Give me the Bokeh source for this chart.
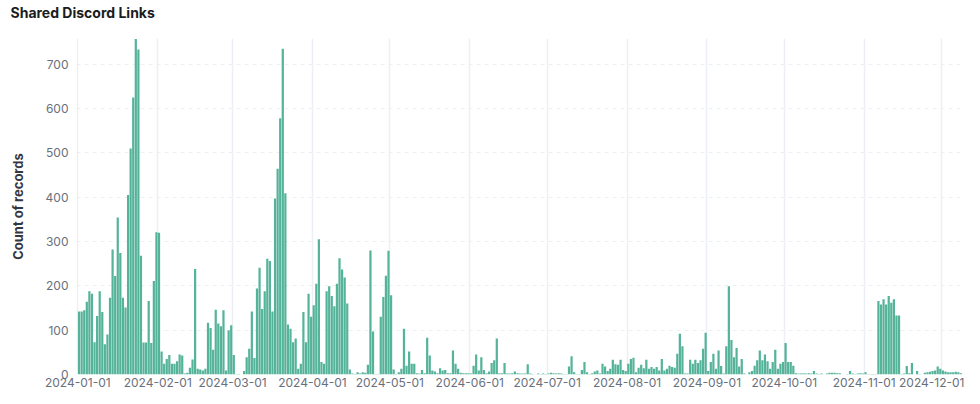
import pandas as pd
from bokeh.plotting import figure
from bokeh.models import ColumnDataSource, FixedTicker, DatetimeTickFormatter, Range1d, Title
from bokeh.embed import file_html
from bokeh.resources import INLINE

title_text = "Shared Discord Links"
y_label = "Count of records"
start_date = "2024-01-01"

counts = [
    142, 142, 145, 164, 188, 182, 73, 132, 188, 141,
    68, 90, 173, 282, 222, 354, 274, 173, 151, 405,
    510, 625, 757, 733, 268, 72, 72, 166, 71, 211,
    321, 320, 52, 24, 35, 44, 24, 24, 30, 45,
    43, 2, 4, 15, 34, 238, 13, 11, 9, 13,
    117, 105, 56, 146, 115, 109, 145, 9, 100, 111,
    44, 1, 1, 0, 8, 39, 58, 142, 37, 194,
    241, 148, 188, 261, 256, 142, 397, 464, 578, 735,
    409, 113, 103, 73, 81, 13, 24, 141, 73, 182,
    130, 156, 205, 305, 28, 24, 188, 199, 177, 154,
    205, 262, 237, 219, 160, 11, 2, 1, 5, 2,
    5, 4, 22, 280, 97, 1, 1, 130, 175, 223,
    279, 179, 11, 1, 5, 13, 103, 20, 52, 24,
    24, 3, 2, 10, 3, 83, 43, 9, 7, 3,
    14, 9, 10, 3, 3, 54, 24, 13, 4, 3,
    3, 3, 2, 20, 45, 9, 39, 10, 3, 7,
    26, 32, 81, 3, 3, 26, 2, 2, 3, 7,
    3, 2, 2, 2, 23, 2, 1, 0, 2, 1,
    2, 1, 2, 4, 3, 2, 3, 2, 1, 1,
    18, 41, 5, 1, 1, 10, 28, 5, 1, 3,
    7, 9, 2, 24, 18, 8, 13, 33, 23, 22,
    33, 10, 8, 24, 35, 38, 5, 15, 22, 14,
    33, 13, 17, 13, 17, 9, 35, 9, 13, 20,
    17, 15, 47, 92, 64, 2, 2, 33, 24, 33,
    26, 32, 58, 94, 8, 28, 47, 13, 54, 19,
    2, 64, 199, 78, 39, 60, 18, 35, 2, 0,
    5, 8, 20, 32, 54, 32, 45, 30, 13, 28,
    56, 13, 24, 28, 71, 28, 28, 20, 3, 2,
    2, 3, 2, 3, 2, 8, 2, 1, 2, 0,
    2, 4, 4, 4, 3, 3, 0, 0, 1, 8,
    2, 1, 2, 3, 2, 5, 1, 1, 1, 1,
    166, 158, 170, 158, 177, 162, 170, 133, 133, 1,
    2, 19, 3, 26, 0, 8, 1, 0, 4, 5,
    6, 8, 9, 18, 13, 9, 7, 5, 5, 5,
    6, 5, 3,
]

month_ticks = ["2024-01-01", "2024-02-01", "2024-03-01", "2024-04-01",
               "2024-05-01", "2024-06-01", "2024-07-01", "2024-08-01",
               "2024-09-01", "2024-10-01", "2024-11-01", "2024-12-01"]
y_ticks = [0, 100, 200, 300, 400, 500, 600, 700]

day = pd.Timedelta(days=1)
dates = pd.date_range(start_date, periods=len(counts), freq="D")
src = ColumnDataSource(dict(x=dates + day / 2, top=counts))

x0 = pd.Timestamp(start_date) - day / 2
x1 = dates[-1] + day * 1.5

p = figure(width=964, height=392, x_axis_type="datetime",
           output_backend="svg", toolbar_location=None,
           x_range=Range1d(x0, x1), y_range=Range1d(0, max(counts) + 1),
           min_border_left=76, min_border_right=1,
           min_border_top=38, min_border_bottom=18)

p.vbar(x="x", top="top", width=day.total_seconds() * 1000 * 0.86, source=src,
       fill_color="#54B399", line_color=None)

# small spacer panel between the frame and the title
p.add_layout(Title(text=" ", text_font_size="1px", standoff=14), "above")

p.title.text = title_text
p.title.text_font = "Inter"
p.title.text_font_style = "bold"
p.title.text_font_size = "14px"
p.title.text_color = "#1a1c21"
p.title.align = "left"
p.title.offset = -66
p.title.standoff = 2

p.outline_line_color = None
p.background_fill_color = "white"
p.border_fill_color = "white"

p.xaxis.ticker = FixedTicker(ticks=[pd.Timestamp(t).value / 1e6 for t in month_ticks])
fmt = "%Y-%m-%d"
p.xaxis.formatter = DatetimeTickFormatter(days=fmt, months=fmt, years=fmt, hours=fmt)
p.yaxis.ticker = FixedTicker(ticks=y_ticks)

for ax in (p.xaxis, p.yaxis):
    ax.axis_line_color = None
    ax.major_tick_line_color = None
    ax.minor_tick_line_color = None
    ax.major_tick_out = 0
    ax.major_tick_in = 0
    ax.major_label_text_font = "Inter"
    ax.major_label_text_font_size = "12px"
    ax.major_label_text_color = "#69707d"

p.xaxis.major_label_standoff = 3
p.yaxis.major_label_standoff = 8
p.yaxis.axis_label = y_label
p.yaxis.axis_label_text_font = "Inter"
p.yaxis.axis_label_text_font_style = "bold"
p.yaxis.axis_label_text_font_size = "13px"
p.yaxis.axis_label_text_color = "#343741"
p.yaxis.axis_label_standoff = 17

p.xgrid.grid_line_color = "#eceff3"
p.xgrid.grid_line_width = 1.5
p.ygrid.grid_line_color = "#eceff3"
p.ygrid.grid_line_width = 1
p.ygrid.grid_line_dash = "4 4"

open("out.html", "w").write(file_html(p, INLINE))
